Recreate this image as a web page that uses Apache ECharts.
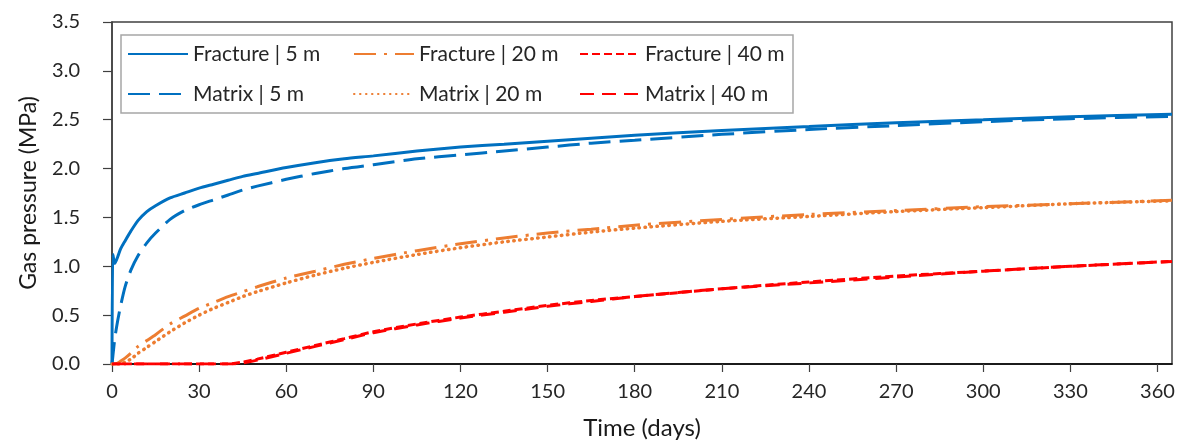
<!DOCTYPE html>
<html>
<head>
<meta charset="utf-8">
<script src="https://cdn.jsdelivr.net/npm/echarts@6/dist/echarts.min.js"></script>
<style>
  html, body { margin: 0; padding: 0; background: #fff; }
  #chart { width: 1185px; height: 448px; }
</style>
</head>
<body>
<div id="chart"></div>
<script>
// Time grid shared by all series (days)
const days = [0, 0.3, 1, 2, 3, 4.5, 6.5, 9, 12, 15, 20, 25, 30, 35, 40, 45, 50, 60, 70, 80, 90, 105, 120, 135, 150, 165, 180, 210, 240, 270, 300, 330, 365];

// Gas pressure (MPa) at each time
const fracture5 = [0, 1.12, 1.03, 1.10, 1.18, 1.26, 1.36, 1.47, 1.56, 1.62, 1.70, 1.75, 1.80, 1.84, 1.88, 1.92, 1.95, 2.01, 2.06, 2.10, 2.13, 2.18, 2.22, 2.25, 2.28, 2.31, 2.34, 2.39, 2.43, 2.47, 2.50, 2.53, 2.555];
const matrix5   = [0, 0.08, 0.27, 0.45, 0.60, 0.79, 0.96, 1.11, 1.24, 1.34, 1.48, 1.57, 1.63, 1.68, 1.73, 1.78, 1.82, 1.89, 1.95, 2.00, 2.04, 2.10, 2.14, 2.18, 2.22, 2.26, 2.29, 2.35, 2.40, 2.44, 2.48, 2.51, 2.535];
const fracture20 = [0, 0, 0, 0.01, 0.03, 0.06, 0.11, 0.18, 0.24, 0.30, 0.41, 0.49, 0.57, 0.63, 0.69, 0.74, 0.79, 0.88, 0.95, 1.02, 1.08, 1.16, 1.23, 1.29, 1.34, 1.38, 1.42, 1.48, 1.53, 1.57, 1.61, 1.64, 1.675];
const matrix20   = [0, 0, 0, 0, 0, 0.02, 0.05, 0.11, 0.17, 0.23, 0.33, 0.42, 0.50, 0.57, 0.63, 0.69, 0.74, 0.83, 0.91, 0.98, 1.04, 1.12, 1.19, 1.25, 1.30, 1.35, 1.39, 1.46, 1.51, 1.56, 1.60, 1.64, 1.67];
const fracture40 = [0, 0, 0, 0, 0, 0, 0, 0, 0, 0, 0, 0, 0, 0, 0, 0.02, 0.05, 0.12, 0.19, 0.26, 0.33, 0.41, 0.48, 0.54, 0.60, 0.65, 0.69, 0.77, 0.84, 0.90, 0.95, 1.00, 1.05];
const matrix40   = [0, 0, 0, 0, 0, 0, 0, 0, 0, 0, 0, 0, 0, 0, 0, 0.01, 0.04, 0.11, 0.18, 0.25, 0.32, 0.40, 0.47, 0.53, 0.59, 0.64, 0.69, 0.77, 0.83, 0.89, 0.95, 1.00, 1.05];

// Axis ticks
const xTicks = [0, 30, 60, 90, 120, 150, 180, 210, 240, 270, 300, 330, 360];
const yTicks = [0, 0.5, 1.0, 1.5, 2.0, 2.5, 3.0, 3.5];

const BLUE = '#0070C0', ORANGE = '#ED7D31', RED = '#FF0000';
const FONT = 'Lato';

function pairs(vals) { return days.map((d, i) => [d, vals[i]]); }

function line(name, vals, color, dash, cap, width) {
  return {
    name: name,
    type: 'line',
    data: pairs(vals),
    symbol: 'none',
    smooth: 0.25,
    animation: false,
    lineStyle: { color: color, width: width || 3, type: dash, cap: cap || 'butt' },
    itemStyle: { color: color }
  };
}

const chart = echarts.init(document.getElementById('chart'), null, { renderer: 'canvas' });
chart.setOption({
  backgroundColor: '#fff',
  animation: false,
  textStyle: { fontFamily: FONT },
  grid: {
    left: 112, right: 13, top: 22, bottom: 84,
    show: true, borderColor: '#404040', borderWidth: 1.5, backgroundColor: 'transparent'
  },
  legend: {
    left: 121, top: 35,
    width: 665,
    orient: 'horizontal',
    padding: [6, 2, 6, 6],
    itemWidth: 60, itemHeight: 14,
    itemGap: 14,
    backgroundColor: '#fff',
    borderColor: '#a6a6a6', borderWidth: 1.5,
    // line-only keys: hide the marker glyph drawn in the middle of each key
    itemStyle: { color: 'transparent', borderColor: 'transparent', borderWidth: 0, opacity: 0 },
    textStyle: { fontFamily: FONT, fontSize: 21, color: '#262626', width: 146, lineHeight: 26 },
    data: ['Fracture | 5 m', 'Fracture | 20 m', 'Fracture | 40 m', 'Matrix | 5 m', 'Matrix | 20 m', 'Matrix | 40 m']
  },
  xAxis: {
    type: 'value', min: 0, max: 365,
    name: 'Time (days)', nameLocation: 'middle', nameGap: 52,
    nameTextStyle: { fontFamily: FONT, fontSize: 24, color: '#1a1a1a' },
    axisLine: { show: true, lineStyle: { color: '#000', width: 1.5 } },
    axisTick: { show: true, length: 8, inside: false, customValues: xTicks, lineStyle: { color: '#404040', width: 1.2 } },
    axisLabel: { customValues: xTicks, margin: 18, fontFamily: FONT, fontSize: 20, color: '#262626' },
    splitLine: { show: false }
  },
  yAxis: {
    type: 'value', min: 0, max: 3.5, interval: 0.5,
    name: 'Gas pressure (MPa)', nameLocation: 'middle', nameGap: 72, nameMoveOverlap: false,
    nameTextStyle: { fontFamily: FONT, fontSize: 23, color: '#1a1a1a' },
    axisLine: { show: true, lineStyle: { color: '#404040', width: 1.5 } },
    axisTick: { show: true, length: 9, inside: false, customValues: yTicks, lineStyle: { color: '#404040', width: 1.2 } },
    axisLabel: { customValues: yTicks, margin: 32, fontFamily: FONT, fontSize: 20, color: '#262626',
      formatter: v => v.toFixed(1) },
    splitLine: { show: false }
  },
  series: [
    line('Fracture | 5 m', fracture5, BLUE, 'solid'),
    line('Fracture | 20 m', fracture20, ORANGE, [22, 8, 3, 8]),
    line('Fracture | 40 m', fracture40, RED, [8, 4]),
    line('Matrix | 5 m', matrix5, BLUE, [22, 9]),
    line('Matrix | 20 m', matrix20, ORANGE, [0.5, 5.5], 'round', 3.5),
    line('Matrix | 40 m', matrix40, RED, [14, 8])
  ]
});
</script>
</body>
</html>
